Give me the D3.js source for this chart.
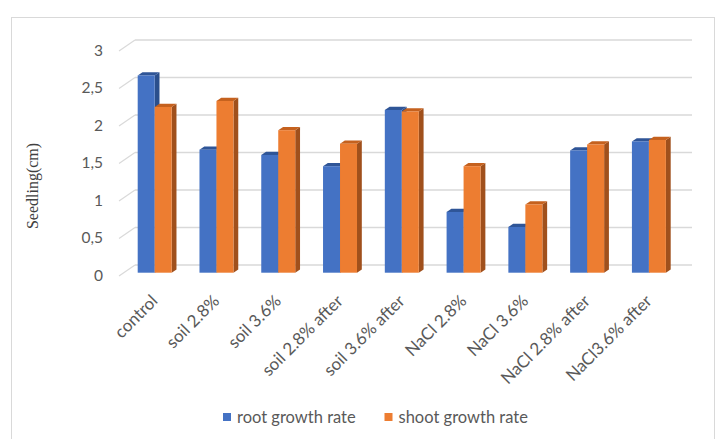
<!DOCTYPE html>
<html>
<head>
<meta charset="utf-8">
<script src="https://cdn.jsdelivr.net/npm/d3@7/dist/d3.min.js"></script>
<style>
  html, body { margin: 0; padding: 0; background: #fff; }
  svg { display: block; }
</style>
</head>
<body>
<svg id="chart" width="720" height="439"></svg>
<script>
// ---- data ----
const categories = ["control", "soil 2.8%", "soil 3.6%", "soil 2.8% after", "soil 3.6% after",
                    "NaCl 2.8%", "NaCl 3.6%", "NaCl 2.8% after", "NaCl3.6% after"];
const rootGrowth  = [2.63, 1.64, 1.57, 1.42, 2.17, 0.81, 0.61, 1.63, 1.75];
const shootGrowth = [2.21, 2.29, 1.90, 1.72, 2.15, 1.42, 0.91, 1.71, 1.77];
const seriesNames = ["root growth rate", "shoot growth rate"];
const yTicks = [0, 0.5, 1, 1.5, 2, 2.5, 3];
const yTickLabels = ["0", "0,5", "1", "1,5", "2", "2,5", "3"];
const yTitle = "Seedling(cm)";

// ---- styles ----
const colors = [
  { front: "#4472C4", top: "#2F5597", side: "#2B4F8C" },
  { front: "#ED7D31", top: "#C5611E", side: "#A0501C" }
];
const svg = d3.select("#chart");

// chart frame
svg.append("rect").attr("x", 11.5).attr("y", 17.5).attr("width", 703).attr("height", 440)
  .attr("fill", "#fff").attr("stroke", "#d9d9d9").attr("stroke-width", 1);

// 3D geometry
const frontX0 = 119, frontX1 = 675, frontY0 = 276;     // front floor edge
const depth = { dx: 16, dy: -11 };                      // floor depth vector
const fFront = 0.3, fBack = 0.6;                        // bar depth fractions
const pxPerUnit = 75;

// value scale on the front edge, back wall and bar plane
const yFront = d3.scaleLinear().domain([0, 3]).range([frontY0, frontY0 - 3 * pxPerUnit]);
const yBack  = v => yFront(v) + depth.dy;
const yBar   = d3.scaleLinear().domain([0, 3]).range([frontY0 + depth.dy * fFront, frontY0 + depth.dy * fFront - 3 * pxPerUnit]);

// gridlines on back wall + diagonal on side wall
const grid = svg.append("g");
yTicks.forEach(v => {
  grid.append("line")
    .attr("x1", frontX0 + depth.dx).attr("x2", frontX1 + depth.dx + 1)
    .attr("y1", yBack(v)).attr("y2", yBack(v))
    .attr("stroke", "#d9d9d9").attr("stroke-width", 1.5);
  grid.append("line")
    .attr("x1", frontX0).attr("y1", yFront(v))
    .attr("x2", frontX0 + depth.dx).attr("y2", yBack(v))
    .attr("stroke", "#d9d9d9").attr("stroke-width", 1.2);
});

// y tick labels
svg.append("g").selectAll("text").data(yTicks).join("text")
  .attr("x", 103).attr("y", v => yFront(v) + 1)
  .attr("text-anchor", "end").attr("dominant-baseline", "middle")
  .attr("font-family", "Lato, 'Open Sans', sans-serif").attr("font-size", 15.5)
  .attr("fill", "#595959")
  .text((v, i) => yTickLabels[i]);

// y title
svg.append("text")
  .attr("transform", "translate(38,186) rotate(-90)")
  .attr("text-anchor", "middle")
  .attr("font-family", "'Liberation Serif', 'Times New Roman', serif").attr("font-size", 16)
  .attr("fill", "#404040")
  .text(yTitle);

// category scale at bar front plane
const barX0 = frontX0 + depth.dx * fFront;
const x = d3.scaleBand().domain(categories)
  .range([barX0, barX0 + (frontX1 - frontX0)])
  .paddingInner(0.45).paddingOuter(0.225);
const xs = d3.scaleBand().domain([0, 1]).range([0, x.bandwidth()]);

const bdx = depth.dx * (fBack - fFront), bdy = depth.dy * (fBack - fFront);
const base = yBar(0);

const bars = [];
categories.forEach((c, i) => {
  [rootGrowth[i], shootGrowth[i]].forEach((v, s) => bars.push({ c, v, s }));
});

const gBars = svg.append("g");
bars.forEach(d => {
  const x0 = x(d.c) + xs(d.s), x1 = x0 + xs.bandwidth();
  const yt = yBar(d.v);
  const col = colors[d.s];
  gBars.append("path")
    .attr("d", `M${x1},${base}L${x1 + bdx},${base + bdy}L${x1 + bdx},${yt + bdy}L${x1},${yt}Z`)
    .attr("fill", col.side);
  gBars.append("path")
    .attr("d", `M${x0},${yt}L${x0 + bdx},${yt + bdy}L${x1 + bdx},${yt + bdy}L${x1},${yt}Z`)
    .attr("fill", col.top);
  gBars.append("rect")
    .attr("x", x0).attr("y", yt).attr("width", x1 - x0).attr("height", base - yt)
    .attr("fill", col.front);
});

// x labels
svg.append("g").selectAll("text").data(categories).join("text")
  .attr("transform", c => `translate(${x(c) + x.bandwidth() / 2 + 4},302) rotate(-45)`)
  .attr("text-anchor", "end")
  .attr("font-family", "Lato, 'Open Sans', sans-serif").attr("font-size", 17)
  .attr("fill", "#595959")
  .text(c => c);

// legend
const legendX = [223, 384.5];
const lg = svg.append("g").selectAll("g").data(seriesNames).join("g")
  .attr("transform", (d, i) => `translate(${legendX[i]},417)`);
lg.append("rect").attr("x", 0).attr("y", -4).attr("width", 8).attr("height", 8)
  .attr("fill", (d, i) => colors[i].front);
lg.append("text").attr("x", 14).attr("y", 0).attr("dy", "0.35em")
  .attr("font-family", "Lato, 'Open Sans', sans-serif").attr("font-size", 16.5)
  .attr("fill", "#595959")
  .text(d => d);
</script>
</body>
</html>
